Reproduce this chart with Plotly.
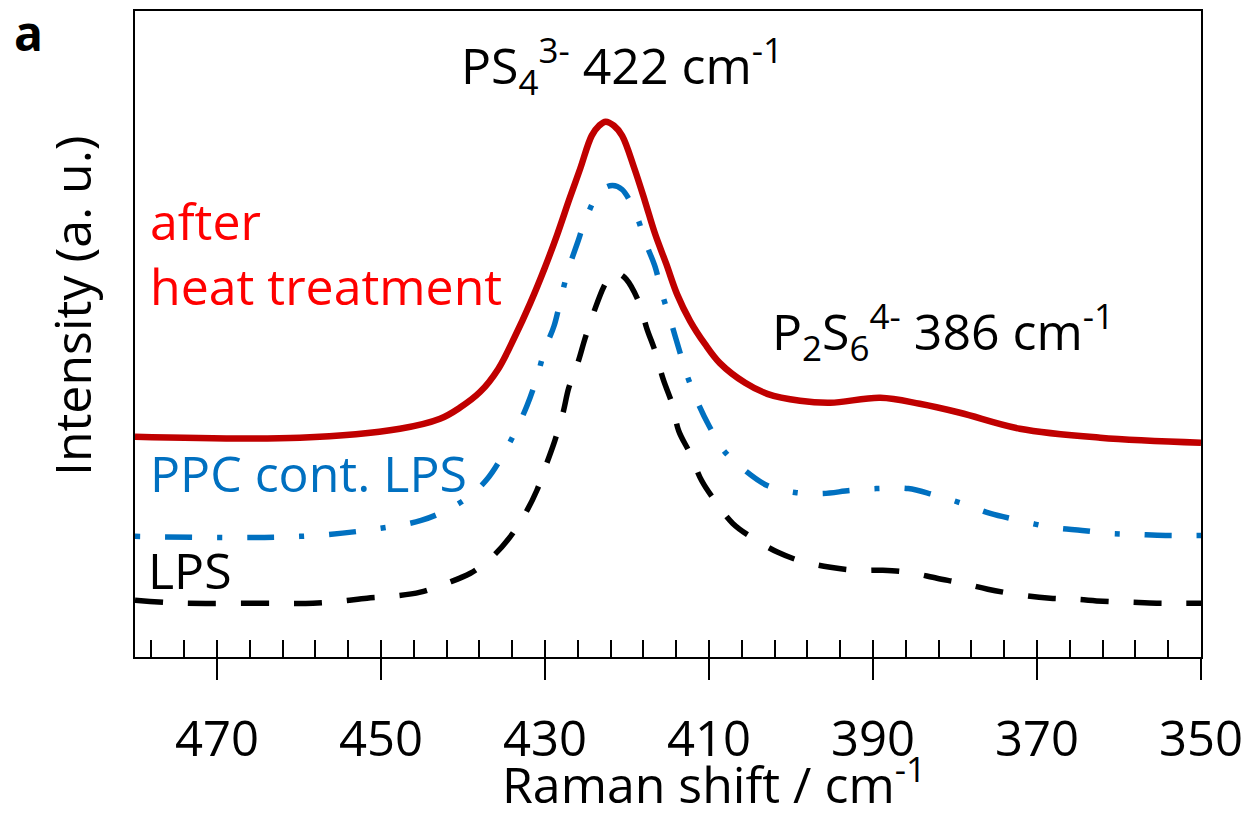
import plotly.graph_objects as go

# Raman shift (cm^-1) and intensity (a.u.)
heat_x = [480.0, 459.9, 447.7, 442.8, 440.4, 437.9, 435.7, 433.7, 431.8, 430.0, 428.5, 427.0,
          425.7, 424.3, 423.4, 422.6, 421.6, 420.6, 419.1, 417.8, 416.6, 415.2, 413.9, 412.3,
          410.5, 408.7, 405.6, 402.9, 398.9, 395.2, 389.1, 384.3, 379.4, 372.1, 362.3, 350.0]
heat_y = [221, 220, 229, 239, 250, 266, 289, 321, 355, 391, 424, 460,
          490, 523, 533, 537, 533, 523, 490, 457, 425, 394, 364, 337,
          314, 295, 275, 264, 257, 255, 260, 254, 245, 229, 220, 215]

ppc_x = [480.0, 459.9, 450.1, 445.1, 441.6, 439.1, 437.1, 435.1, 433.4, 432.2, 431.0, 430.0,
         428.9, 428.0, 427.1, 426.1, 424.9, 423.3, 421.8, 420.6, 418.9, 417.7, 416.6, 415.7,
         414.6, 413.7, 412.7, 411.3, 410.0, 408.2, 405.6, 402.9, 399.5, 396.1, 392.8, 389.3,
         385.7, 382.7, 379.1, 375.7, 372.7, 368.2, 364.5, 361.1, 357.8, 354.3, 350.0]
ppc_y = [121, 121, 129, 137, 149, 162, 178, 203, 230, 252, 280, 309,
         332, 362, 390, 414, 442, 467, 473, 469, 444, 415, 392, 364,
         335, 310, 283, 254, 232, 207, 187, 172, 165, 164, 167, 169,
         169, 163, 154, 144, 138, 130, 127, 124, 123, 122, 122]

lps_x = [480.0, 474.5, 464.8, 458.3, 455.0, 451.7, 448.5, 445.2, 442.0, 439.1, 436.5, 434.3,
         432.4, 431.0, 429.8, 428.8, 427.8, 427.1, 426.0, 425.1, 424.0, 422.8, 421.8, 421.1,
         420.1, 418.5, 417.6, 416.5, 415.6, 414.5, 413.7, 412.3, 410.9, 409.3, 407.1, 404.6,
         401.6, 398.7, 395.2, 392.2, 388.8, 385.7, 382.2, 379.1, 376.0, 371.8, 368.4, 365.4,
         362.0, 358.7, 355.4, 352.2, 350.0]
lps_y = [57, 54, 54, 54, 56, 59, 61, 65, 74, 84, 100, 120,
         144, 167, 194, 217, 245, 270, 295, 320, 347, 372, 385, 385,
         379, 355, 330, 305, 279, 254, 227, 204, 177, 157, 134, 119,
         105, 96, 90, 87, 87, 85, 79, 74, 68, 62, 59, 58,
         56, 55, 54, 54, 54]

major_ticks = [470, 450, 430, 410, 390, 370, 350]
x_range = [480, 350]
y_range = [0, 648]

FONT = "Open Sans"
fig = go.Figure()

fig.add_trace(go.Scatter(x=lps_x, y=lps_y, mode="lines",
                         line=dict(color="#000000", width=5.5, dash="28px,25px",
                                   shape="spline", smoothing=1.0),
                         showlegend=False, hoverinfo="skip"))
fig.add_trace(go.Scatter(x=ppc_x, y=ppc_y, mode="lines",
                         line=dict(color="#0070C0", width=5.5, dash="5px,25px,27px,25px",
                                   shape="spline", smoothing=1.0),
                         showlegend=False, hoverinfo="skip"))
fig.add_trace(go.Scatter(x=heat_x, y=heat_y, mode="lines",
                         line=dict(color="#C00000", width=6.5, shape="spline", smoothing=1.0),
                         showlegend=False, hoverinfo="skip"))
# helper trace for the inner minor tick axis
fig.add_trace(go.Scatter(x=[x_range[0]], y=[-100], xaxis="x2", mode="markers",
                         marker=dict(opacity=0), showlegend=False, hoverinfo="skip"))

fig.update_layout(
    width=1256, height=814,
    margin=dict(l=135, r=55, t=9, b=157),
    paper_bgcolor="white", plot_bgcolor="white",
    font=dict(family=FONT, color="black"),
    xaxis=dict(range=x_range, tickmode="array", tickvals=major_ticks,
               ticktext=[str(v) for v in major_ticks],
               ticks="outside", ticklen=21, tickwidth=1.5, tickcolor="black",
               showline=True, linecolor="black", linewidth=1.5, mirror=True,
               showgrid=False, zeroline=False,
               tickfont=dict(family=FONT, size=49, color="black"),
               ticklabelstandoff=17),
    xaxis2=dict(range=x_range, overlaying="x", anchor="y", side="bottom",
                tickmode="linear", tick0=350, dtick=4,
                ticks="inside", ticklen=17, tickwidth=1.5, tickcolor="black",
                showticklabels=False, showline=False, showgrid=False, zeroline=False),
    yaxis=dict(range=y_range, showticklabels=False, ticks="",
               showline=True, linecolor="black", linewidth=1.5, mirror=True,
               showgrid=False, zeroline=False),
)

def px_x(p):
    return (p - 135) / 1066

def px_y(p):
    return (657 - p) / 648

annotations = [
    dict(text="<b>a</b>", x=px_x(28), y=px_y(31), xanchor="center", yanchor="middle",
         font=dict(size=48, color="black")),
    dict(text="PS<sub>4</sub><sup>3-</sup> 422 cm<sup>-1</sup>", x=px_x(622), y=px_y(64),
         xanchor="center", yanchor="middle", font=dict(size=50, color="black")),
    dict(text="P<sub>2</sub>S<sub>6</sub><sup>4-</sup> 386 cm<sup>-1</sup>", x=px_x(943), y=px_y(330),
         xanchor="center", yanchor="middle", font=dict(size=50, color="black")),
    dict(text="after<br>heat treatment", x=px_x(148), y=px_y(252), xanchor="left", yanchor="middle",
         align="left", font=dict(size=50, color="#FF0000")),
    dict(text="PPC cont. LPS", x=px_x(148), y=px_y(472), xanchor="left", yanchor="middle",
         font=dict(size=50, color="#0070C0")),
    dict(text="LPS", x=px_x(146), y=px_y(570), xanchor="left", yanchor="middle",
         font=dict(size=50, color="black")),
    dict(text="Intensity (a. u.)", x=px_x(72), y=px_y(305), xanchor="center", yanchor="middle",
         textangle=-90, font=dict(size=50, color="black")),
    dict(text="Raman shift / cm<sup>-1</sup>", x=px_x(714), y=px_y(782), xanchor="center",
         yanchor="middle", font=dict(size=50, color="black")),
]
for a in annotations:
    a.update(xref="paper", yref="paper", showarrow=False)
fig.update_layout(annotations=annotations)

fig.write_html("out.html")
